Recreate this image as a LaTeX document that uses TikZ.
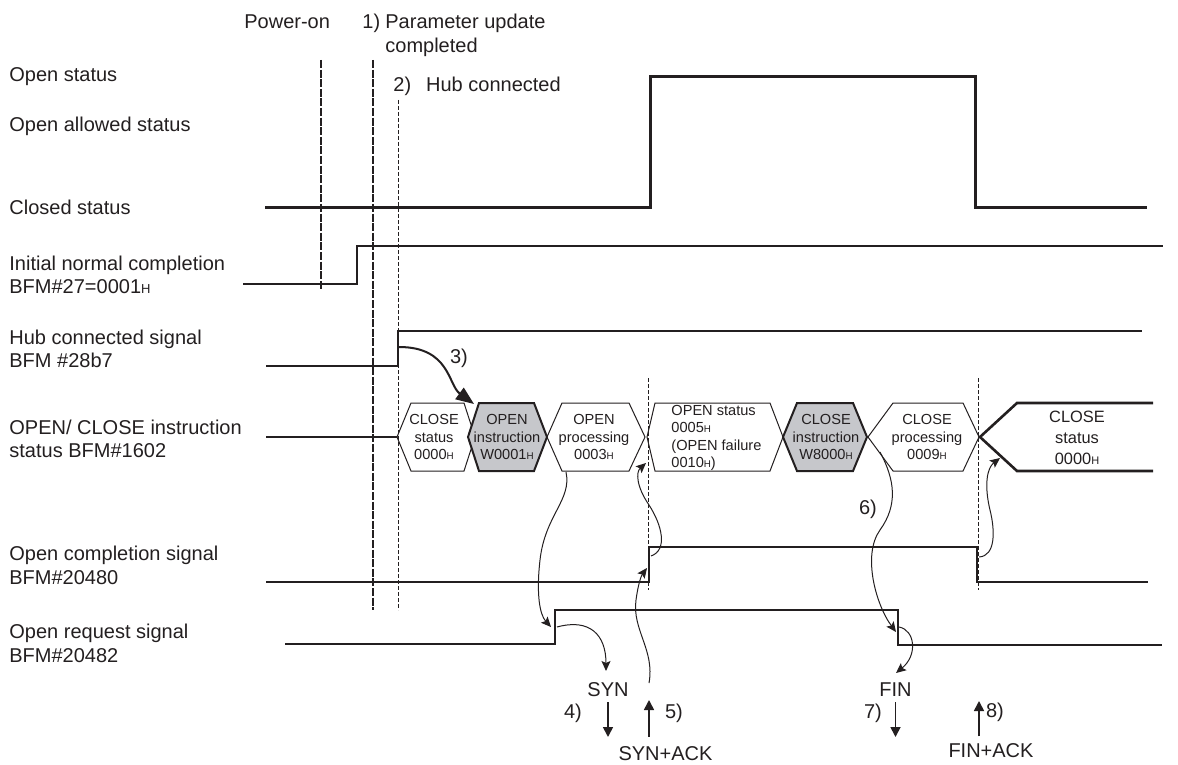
\documentclass[tikz,border=0pt]{standalone}
\usepackage{fontspec}
\setmainfont{Liberation Sans}
\usetikzlibrary{arrows.meta, positioning}
\definecolor{ink}{RGB}{35,31,32}
\definecolor{instrgray}{RGB}{198,199,203}
% the small H after hex values
\newcommand{\lblH}{{\fontsize{6.5}{7}\selectfont H}}
\newcommand{\hexH}{{\fontsize{4.9}{5}\selectfont H}}
\newcommand{\lastH}{{\fontsize{5.5}{6}\selectfont H}}
% one state box of the instruction status row
\newcommand{\hexcell}[5]{\draw[#5] (#1,437) -- (#2,403) -- (#3,403) -- (#4,437) -- (#3,471) -- (#2,471) -- cycle;}
\tikzset{
  every node/.style={inner sep=0pt, text=ink}, % no padding round texts
  signame/.style={font=\fontsize{10}{11.7}\selectfont, align=left}, % names
  % of the signals and the events
  hextext/.style={font=\fontsize{7.3}{8.75}\selectfont, align=center},
  wave/.style={draw=ink, line width=1pt}, % the signal levels
  event/.style={draw=ink, line width=1pt, dash pattern=on 4pt off 0.8pt},
  edgemark/.style={draw=ink, line width=0.5pt, dash pattern=on 2pt off 1pt},
  hexbox/.style={draw=ink, line width=0.5pt},
  instrbox/.style={draw=ink, line width=1pt, fill=instrgray},
  cause/.style={draw=ink, line width=0.5pt,
    -{Stealth[length=5pt, width=4.5pt, inset=1pt]}}, % thin curved arrows
  msg/.style={draw=ink, line width=0.85pt,
    -{Triangle[length=5pt, width=5pt]}}, % packets on the line
}

\begin{document}
\begin{tikzpicture}[x=0.5pt, y=-0.5pt]
  \useasboundingbox (0,0) rectangle (1178,765);

  % signal names
  \node[signame, anchor=base west] (open_lbl) at (9,81.6) {Open status};
  \node[signame, anchor=base west] (allowed_lbl) at (9,131.6) {Open allowed status};
  \node[signame, anchor=base west] (closed_lbl) at (9,214.3) {Closed status};
  \node[signame, anchor=west] (init_lbl) at (9,275) {Initial normal completion\\BFM\#27=0001\lblH};
  \node[signame, anchor=west] (hub_lbl) at (9,349) {Hub connected signal\\BFM \#28b7};
  \node[signame, anchor=west] (instr_lbl) at (9,439) {OPEN/ CLOSE instruction\\status BFM\#1602};
  \node[signame, anchor=west] (done_lbl) at (9,565.5) {Open completion signal\\BFM\#20480};
  \node[signame, anchor=west] (req_lbl) at (9,643.5) {Open request signal\\BFM\#20482};

  % events on top
  \node[signame, anchor=base west] (power_on) at (244,28.3) {Power-on};
  \node[signame, anchor=base west] (step_1) at (362,28.3) {1)};
  \node[signame, anchor=west] (param_done) at (385,35.4) {Parameter update\\completed};
  \node[signame, anchor=base west] (hub_done) at (393,91.6) {2)\hskip7.5pt Hub connected};

  \draw[event] (321,60) -- (321,290);
  \draw[event] (373,60) -- (373,610);
  \draw[edgemark] (398,100) -- (398,610);

  % levels
  \draw[wave, line width=1.5pt] (265,207) -- (650,207) -- (650,77) -- (975,77) -- (975,207) -- (1147,207);
  \draw[wave, line width=1.1pt] (243,284) -- (357,284) -- (357,246) -- (1163,246);
  \draw[wave] (266,366) -- (398,366) -- (398,331) -- (1142,331);
  \draw[wave] (266,437) -- (397,437);
  \draw[wave, line width=0.9pt] (266,582) -- (649,582) -- (649,547) -- (977,547) -- (977,582) -- (1148,582);
  \draw[wave, line width=0.9pt] (285,644) -- (555,644) -- (555,610) -- (898,610) -- (898,645) -- (1162,645);

  % instruction status row
  \hexcell{397}{411}{464}{475}{hexbox}
  \hexcell{468}{479}{534}{547}{instrbox}
  \hexcell{547}{562}{629}{645}{hexbox}
  \hexcell{647}{655}{770}{783}{hexbox}
  \hexcell{783}{797}{853}{867}{instrbox}
  \hexcell{868}{893}{963}{979}{hexbox}
  \draw[draw=ink, line width=1.3pt] (1153,403) -- (1017,403) -- (980,437) -- (1017,471) -- (1153,471);

  \node[hextext] (close_st) at (434,437) {CLOSE\\status\\0000\hexH};
  \node[hextext] (open_instr) at (507,437) {OPEN\\instruction\\W0001\hexH};
  \node[hextext] (open_proc) at (594,437) {OPEN\\processing\\0003\hexH};
  \node[hextext, align=left, anchor=west] (open_st) at (671,438) {OPEN status\\0005\hexH\\(OPEN failure\\0010\hexH)};
  \node[hextext] (close_instr) at (826,437) {CLOSE\\instruction\\W8000\hexH};
  \node[hextext] (close_proc) at (927,437) {CLOSE\\processing\\0009\hexH};
  \node[font=\fontsize{8.2}{10.5}\selectfont, align=center] (close_end) at (1077,438) {CLOSE\\status\\0000\lastH};

  \draw[edgemark] (648,378) -- (648,590);
  \draw[edgemark] (978,378) -- (978,590);

  % packets
  \node[signame] (syn) at (608,690) {SYN};
  \node[signame] (syn_ack) at (665.5,754) {SYN+ACK};
  \node[signame] (fin) at (895.5,690) {FIN};
  \node[signame] (fin_ack) at (991,751) {FIN+ACK};
  \node[signame] (step_3) at (459,358) {3)};
  \node[signame] (step_4) at (573,713) {4)};
  \node[signame] (step_5) at (674,713) {5)};
  \node[signame] (step_6) at (868,509) {6)};
  \node[signame] (step_7) at (873,713) {7)};
  \node[signame] (step_8) at (995,712) {8)};

  \coordinate (syn_end) at (607,737);
  \coordinate (synack_tip) at (649,700);
  \coordinate (fin_end) at (896,737);
  \coordinate (finack_tip) at (979,701);
  \draw[msg, shorten <=2.5pt] (syn.south) -- (syn.south |- syn_end);
  \draw[msg, shorten <=5pt] (synack_tip |- syn_ack.north) -- (synack_tip);
  \draw[msg, shorten <=2.5pt] (fin.south) -- (fin.south |- fin_end);
  \draw[msg, shorten <=3.6pt] (finack_tip |- fin_ack.north) -- (finack_tip);

  % what triggers what
  \coordinate (hub_rise) at (399,347);
  \coordinate (open_instr_in) at (474,404);
  \coordinate (open_proc_out) at (566,472);
  \coordinate (req_rise_in) at (551,627);
  \coordinate (req_rise_out) at (557,627);
  \coordinate (syn_in) at (606,671);
  \coordinate (synack_up) at (649,683);
  \coordinate (done_rise_in) at (647,568);
  \coordinate (done_rise_out) at (651,556);
  \coordinate (open_st_in) at (646,463);
  \coordinate (close_proc_out) at (880,452);
  \coordinate (req_fall_in) at (896,632);
  \coordinate (req_fall_out) at (899,627);
  \coordinate (fin_in) at (896,673);
  \coordinate (done_fall_out) at (979,557);
  \coordinate (close_end_in) at (1000,458);

  \draw[draw=ink, line width=1pt, -{Triangle[length=9pt, width=7pt]}]
    (hub_rise) .. controls (450,347) and (448,385) .. (open_instr_in);
  \draw[cause] (open_proc_out) .. controls (572,500) and (545,515) .. (540,560)
    .. controls (536,595) and (540,615) .. (req_rise_in);
  \draw[cause] (req_rise_out) .. controls (590,618) and (606,635) .. (syn_in);
  \draw[cause] (synack_up) .. controls (655,650) and (632,630) .. (636,600)
    .. controls (638,585) and (641,576) .. (done_rise_in);
  \draw[cause] (done_rise_out) .. controls (668,550) and (662,525) .. (649,505)
    .. controls (636,486) and (636,472) .. (open_st_in);
  \draw[cause] (close_proc_out) .. controls (895,480) and (898,505) .. (880,530)
    .. controls (862,555) and (876,605) .. (req_fall_in);
  \draw[cause] (req_fall_out) .. controls (915,630) and (918,655) .. (fin_in);
  \draw[cause] (done_fall_out) .. controls (996,556) and (995,530) .. (990,510)
    .. controls (984,485) and (987,468) .. (close_end_in);
\end{tikzpicture}
\end{document}
